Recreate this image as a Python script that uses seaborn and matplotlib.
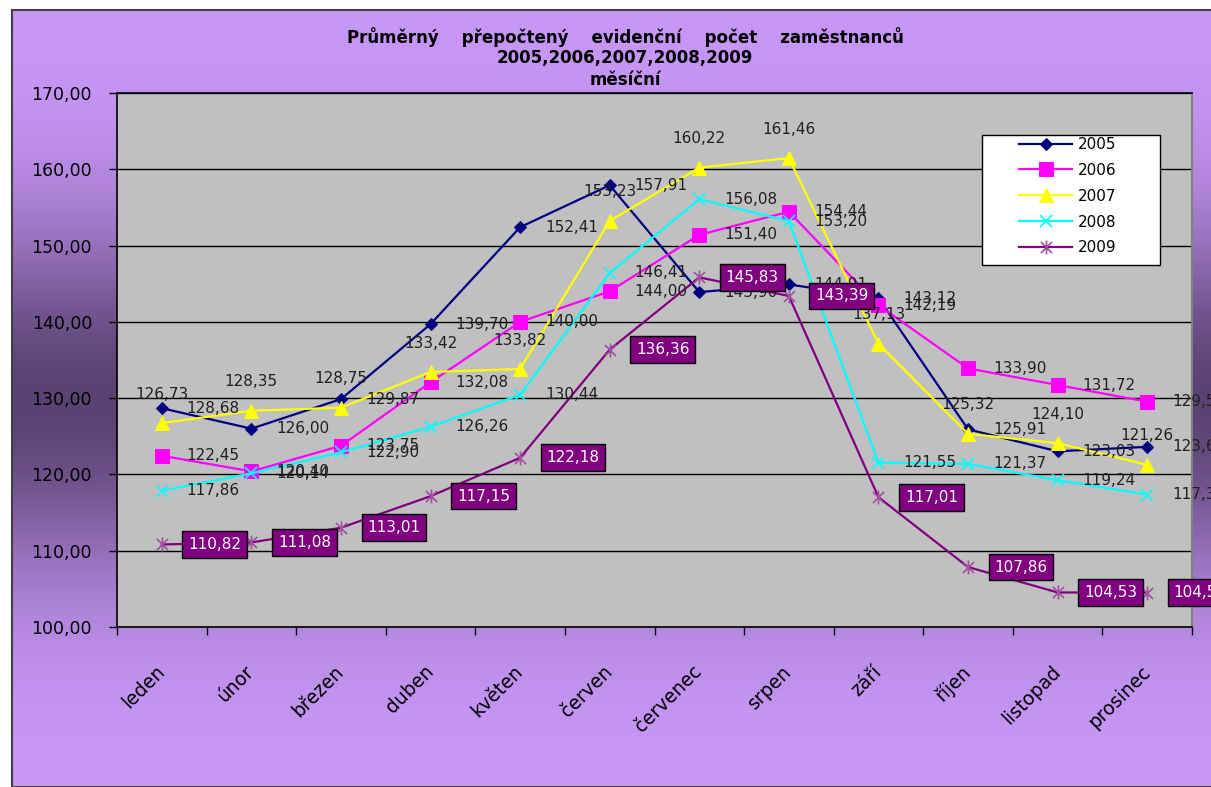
import numpy as np
import pandas as pd
import matplotlib
matplotlib.use("Agg")
import matplotlib.pyplot as plt
from matplotlib.path import Path
from matplotlib.patches import Rectangle
import seaborn as sns

months = ["leden", "únor", "březen", "duben", "květen", "červen",
          "červenec", "srpen", "září", "říjen", "listopad", "prosinec"]
years = ["2005", "2006", "2007", "2008", "2009"]
v2005 = [128.68, 126.00, 129.87, 139.70, 152.41, 157.91, 143.90, 144.91, 143.12, 125.91, 123.03, 123.62]
v2006 = [122.45, 120.40, 123.75, 132.08, 140.00, 144.00, 151.40, 154.44, 142.19, 133.90, 131.72, 129.53]
v2007 = [126.73, 128.35, 128.75, 133.42, 133.82, 153.23, 160.22, 161.46, 137.13, 125.32, 124.10, 121.26]
v2008 = [117.86, 120.14, 122.90, 126.26, 130.44, 146.41, 156.08, 153.20, 121.55, 121.37, 119.24, 117.36]
v2009 = [110.82, 111.08, 113.01, 117.15, 122.18, 136.36, 145.83, 143.39, 117.01, 107.86, 104.53, 104.50]
series = [v2005, v2006, v2007, v2008, v2009]
title_lines = ["Průměrný    přepočtený    evidenční    počet    zaměstnanců",
               "2005,2006,2007,2008,2009", "měsíční"]

plt.rcParams['font.family'] = ['DejaVu Sans']

W, H = 1211, 787
fig = plt.figure(figsize=(W / 100, H / 100), dpi=100, facecolor="white")

# background gradient
bg = fig.add_axes([12 / W, 0, 1 - 12 / W, 1 - 10 / H], zorder=-5)
ys = np.linspace(10, 787, 400)
f = np.exp(-((ys - 400) / 175.0) ** 2)
light = np.array([200, 152, 248]) / 255.0
dark = np.array([90, 66, 114]) / 255.0
grad = light[None, :] * (1 - f[:, None]) + dark[None, :] * f[:, None]
bg.imshow(grad[:, None, :], aspect="auto", extent=[0, 1, 0, 1], origin="upper")
bg.set_axis_off()
fig.patches.append(Rectangle((12 / W, 0), 1, 1 - 10 / H, transform=fig.transFigure,
                             fill=False, edgecolor="#404040", linewidth=1.5, zorder=-4))

ax = fig.add_axes([117 / W, 1 - 627 / H, (1192 - 117) / W, (627 - 93) / H])
ax.set_facecolor("#c0c0c0")

ast = Path([(0, -1), (0, 1), (-0.8, -0.8), (0.8, 0.8), (-0.8, 0.8), (0.8, -0.8)],
           [Path.MOVETO, Path.LINETO, Path.MOVETO, Path.LINETO, Path.MOVETO, Path.LINETO])

styles = [
    dict(color="#000080", marker="D", markersize=6, mfc="#000080", mec="#000080"),
    dict(color="#ff00ff", marker="s", markersize=10.5, mfc="#ff00ff", mec="#ff00ff"),
    dict(color="#ffff00", marker="^", markersize=10.5, mfc="#ffff00", mec="#ffff00"),
    dict(color="#00ffff", marker="x", markersize=9, mec="#00ffff", mew=1.2),
    dict(color="#800080", marker=ast, markersize=10, mec="#a050a0", mfc="none", mew=1.2),
]

for yr, vals, st in zip(years, series, styles):
    df = pd.DataFrame({"měsíc": months, "počet": vals})
    sns.lineplot(data=df, x="měsíc", y="počet", ax=ax, sort=False, linewidth=1.6,
                 label=yr, **st)

def fmt(v):
    return f"{v:.2f}".replace(".", ",")

for i in range(12):
    for vals in (v2005, v2006, v2008):
        ax.annotate(fmt(vals[i]), (i, vals[i]), xytext=(25, 0), textcoords="offset pixels",
                    ha="left", va="center", fontsize=11, color="#202020", zorder=5)
    ax.annotate(fmt(v2007[i]), (i, v2007[i]), xytext=(0, 29), textcoords="offset pixels",
                ha="center", va="center", fontsize=11, color="#202020", zorder=5)
    ax.annotate(fmt(v2009[i]), (i, v2009[i]), xytext=(53, 0), textcoords="offset pixels",
                ha="center", va="center", fontsize=11, color="white", zorder=6,
                bbox=dict(boxstyle="square,pad=0.38", fc="#800080", ec="black", lw=1))

ax.set_xlim(-0.5, 11.5)
ax.set_ylim(100, 170)
yt = np.arange(100, 171, 10)
ax.set_yticks(yt, labels=[fmt(v) for v in yt])
ax.set_xticks(range(12), labels=months)
ax.set_xticks(np.arange(-0.5, 12, 1), minor=True)
ax.tick_params(axis="x", which="major", length=0, pad=30, labelsize=13.5, rotation=45)
ax.tick_params(axis="x", which="minor", length=6, width=1, direction="out", color="black")
ax.tick_params(axis="y", length=6, width=1, direction="out", pad=12, labelsize=12.5)
for lab in ax.get_xticklabels():
    lab.set_ha("right")
    lab.set_rotation_mode("anchor")
    lab.set_va("center")
ax.set_xlabel("")
ax.set_ylabel("")
ax.grid(False)
for y in yt:
    ax.axhline(y, color="black", lw=1, zorder=0.5)
for s in ["left", "bottom", "top"]:
    ax.spines[s].set_color("black")
    ax.spines[s].set_linewidth(1.2)
ax.spines["right"].set_color("#808080")
ax.spines["right"].set_linewidth(1.5)

# legend: white box drawn separately, entries placed inside it
ax.add_patch(Rectangle((982 / W, 1 - 265 / H), (1160 - 982) / W, (265 - 135) / H,
                       transform=fig.transFigure, facecolor="white", edgecolor="black",
                       linewidth=1, zorder=9, clip_on=False))
leg = ax.legend(loc="upper left", bbox_to_anchor=(1019 / W, 1 - 137 / H),
                bbox_transform=fig.transFigure, fontsize=11, frameon=False,
                handlelength=3.5, borderpad=0, labelspacing=0.71,
                handletextpad=0.33, borderaxespad=0)
leg.set_zorder(10)

tys = [37, 58, 80]
for t, yy in zip(title_lines, tys):
    fig.text(625 / W, 1 - yy / H, t, ha="center", va="center", fontsize=12,
             fontweight="bold", color="black")

fig.savefig("out.png", dpi=100, facecolor="white")
